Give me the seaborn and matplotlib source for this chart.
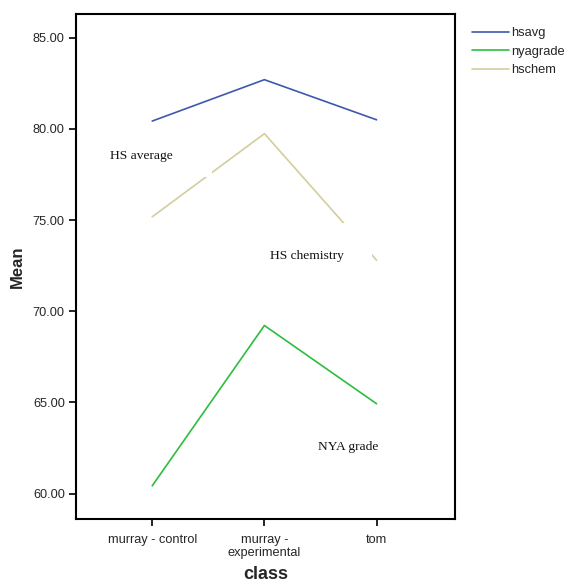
import matplotlib
matplotlib.use("Agg")
import matplotlib.pyplot as plt
from matplotlib.patches import Rectangle
import seaborn as sns
import pandas as pd

# data
classes = ["murray - control", "murray -\nexperimental", "tom"]
hsavg = [80.43, 82.70, 80.50]
nyagrade = [60.43, 69.22, 64.93]
hschem = [75.18, 79.74, 72.80]

series_names = ["hsavg", "nyagrade", "hschem"]
colors = ["#3d58ad", "#2dbd3e", "#d4cd9e"]

rows = []
for name, vals in zip(series_names, [hsavg, nyagrade, hschem]):
    for i, v in enumerate(vals):
        rows.append({"pos": i, "Mean": v, "series": name})
df = pd.DataFrame(rows)

sns.set_style("white")
plt.rcParams["font.family"] = ["Liberation Sans", "DejaVu Sans"]

fig = plt.figure(figsize=(5.71, 5.84), dpi=100)
ax = fig.add_axes([0.133, 0.111, 0.664, 0.865])

sns.lineplot(data=df, x="pos", y="Mean", hue="series", hue_order=series_names,
             palette=colors, linewidth=1.2, ax=ax, legend=True)

ax.set_xlim(-0.68, 2.70)
ax.set_ylim(58.6, 86.3)
ax.set_xticks(range(len(classes)))
ax.set_xticklabels(classes, fontsize=9.2, linespacing=1.1)
ax.set_yticks([60, 65, 70, 75, 80, 85])
ax.set_yticklabels([f"{t:.2f}" for t in [60, 65, 70, 75, 80, 85]], fontsize=9.2)
ax.tick_params(axis="x", pad=6)
ax.tick_params(axis="y", pad=3)
ax.tick_params(axis="both", direction="out", length=5, width=1.2, color="black",
               left=True, bottom=True)
for sp in ax.spines.values():
    sp.set_color("black")
    sp.set_linewidth(1.5)

ax.set_xlabel("class", fontsize=13, fontweight="bold", labelpad=5)
ax.set_ylabel("Mean", fontsize=12, fontweight="bold", labelpad=6)

# hidden label boxes that break the hschem line
ax.add_patch(Rectangle((-0.42, 77.38), 0.956, 1.76, facecolor="white",
                       edgecolor="none", zorder=5))
ax.add_patch(Rectangle((1.01, 72.29), 0.945, 2.57, facecolor="white",
                       edgecolor="none", zorder=5))

serif = ["Liberation Serif", "DejaVu Serif"]
ax.text(-0.375, 78.5, "HS average", fontsize=9.7, family=serif, va="center",
        color="#111111", zorder=6)
ax.text(1.05, 73.05, "HS chemistry", fontsize=9.7, family=serif, va="center",
        color="#111111", zorder=6)
ax.text(1.48, 62.55, "NYA grade", fontsize=9.7, family=serif, va="center",
        color="#111111", zorder=6)

handles, labels = ax.get_legend_handles_labels()
ax.legend(handles, labels, loc="upper left", bbox_to_anchor=(1.015, 0.997),
          frameon=False, fontsize=9.3, handlelength=2.8, handletextpad=0.2,
          labelspacing=0.5)

fig.savefig("out.png", dpi=100)
